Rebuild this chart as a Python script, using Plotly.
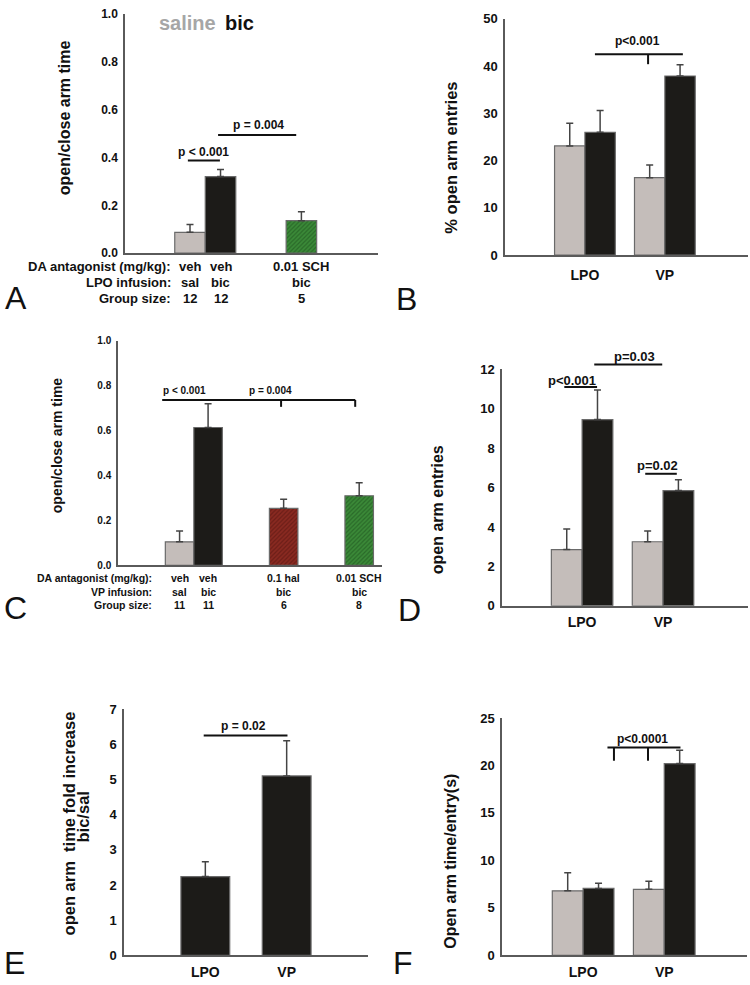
import plotly.graph_objects as go

W, H = 750, 985
FONT = "Liberation Sans, Arial, Helvetica, sans-serif"
GRAY = "#c4bdba"
BLACK = "#1c1b18"
RED = "#8a2a21"
GREEN = "#3b8a38"
RED_FG = "#4e120e"
GREEN_FG = "#1a4a19"
AXC = "#5a5a5a"

# ---------------- data ----------------
# Panel A (LPO infusion, open/close arm time)
A_da = ["veh", "veh", "0.01 SCH"]
A_inf = ["sal", "bic", "bic"]
A_n = ["12", "12", "5"]
A_val = [0.087, 0.320, 0.136]
A_err = [0.033, 0.030, 0.037]

# Panel B (% open arm entries)
REGIONS = ["LPO", "VP"]
B_sal = [23.1, 16.4]
B_sal_err = [4.8, 2.7]
B_bic = [26.0, 37.9]
B_bic_err = [4.6, 2.4]

# Panel C (VP infusion, open/close arm time)
C_da = ["veh", "veh", "0.1 hal", "0.01 SCH"]
C_inf = ["sal", "bic", "bic", "bic"]
C_n = ["11", "11", "6", "8"]
C_val = [0.105, 0.614, 0.254, 0.310]
C_err = [0.048, 0.106, 0.040, 0.058]

# Panel D (open arm entries)
D_sal = [2.85, 3.25]
D_sal_err = [1.05, 0.55]
D_bic = [9.45, 5.85]
D_bic_err = [1.50, 0.55]

# Panel E (fold increase bic/sal)
E_val = [2.24, 5.10]
E_err = [0.42, 1.00]

# Panel F (open arm time/entry)
F_sal = [6.8, 6.95]
F_sal_err = [1.9, 0.85]
F_bic = [7.05, 20.2]
F_bic_err = [0.55, 1.4]

# ---------------- layout geometry / styles ----------------
GEOM = {
    "A": dict(xpx=(125, 378), ypx=(7, 250), xr=[-2.13, 6.16], yr=[0, 1.0]),
    "B": dict(xpx=(505, 748), ypx=(12, 252), xr=[-1.0, 2.04], yr=[0, 50]),
    "C": dict(xpx=(118, 382), ypx=(339, 567), xr=[-2.16, 7.1], yr=[0, 1.0]),
    "D": dict(xpx=(502, 748), ypx=(368, 608), xr=[-0.99, 2.05], yr=[0, 12]),
    "E": dict(xpx=(124, 368), ypx=(713, 963), xr=[-1.0, 2.0], yr=[0, 7]),
    "F": dict(xpx=(502, 747), ypx=(722, 963), xr=[-1.0, 2.02], yr=[0, 25]),
}
A_pos = [0, 1, 3.65]
C_pos = [0, 1, 3.65, 6.3]
A_style = [(GRAY, None), (BLACK, None), (GREEN, GREEN_FG)]
C_style = [(GRAY, None), (BLACK, None), (RED, RED_FG), (GREEN, GREEN_FG)]


def px(x, y):
    return x / W, 1 - y / H


def to_paper(p, xv, yv):
    g = GEOM[p]
    fx = (xv - g["xr"][0]) / (g["xr"][1] - g["xr"][0])
    fy = (yv - g["yr"][0]) / (g["yr"][1] - g["yr"][0])
    X = g["xpx"][0] + fx * (g["xpx"][1] - g["xpx"][0])
    Y = g["ypx"][1] - fy * (g["ypx"][1] - g["ypx"][0])
    return X / W, 1 - Y / H


def err(arr):
    return dict(type="data", symmetric=False, array=arr, arrayminus=[0] * len(arr),
                color="#444444", thickness=1.5, width=3.5)


LINE = dict(color="#6a6a6a", width=1.2)
fig = go.Figure()


def per_bar(pos, vals, errs, styles, xa, ya):
    for i in range(len(vals)):
        col, fg = styles[i]
        marker = dict(color=col, line=LINE)
        if fg:
            marker["pattern"] = dict(shape="/", fillmode="overlay", fgcolor=fg,
                                     size=3, solidity=0.4)
        fig.add_trace(go.Bar(x=[pos[i]], y=[vals[i]], width=1, xaxis=xa, yaxis=ya,
                             marker=marker, error_y=err([errs[i]]), showlegend=False))


# A
per_bar(A_pos, A_val, A_err, A_style, "x", "y")
# B
fig.add_trace(go.Bar(x=REGIONS, y=B_sal, xaxis="x2", yaxis="y2", name="saline",
                     marker=dict(color=GRAY, line=LINE), error_y=err(B_sal_err), showlegend=False))
fig.add_trace(go.Bar(x=REGIONS, y=B_bic, xaxis="x2", yaxis="y2", name="bic",
                     marker=dict(color=BLACK, line=LINE), error_y=err(B_bic_err), showlegend=False))
# C
per_bar(C_pos, C_val, C_err, C_style, "x3", "y3")
# D
fig.add_trace(go.Bar(x=REGIONS, y=D_sal, xaxis="x4", yaxis="y4",
                     marker=dict(color=GRAY, line=LINE), error_y=err(D_sal_err), showlegend=False))
fig.add_trace(go.Bar(x=REGIONS, y=D_bic, xaxis="x4", yaxis="y4",
                     marker=dict(color=BLACK, line=LINE), error_y=err(D_bic_err), showlegend=False))
# E
fig.add_trace(go.Bar(x=REGIONS, y=E_val, width=0.6, xaxis="x5", yaxis="y5",
                     marker=dict(color=BLACK, line=LINE), error_y=err(E_err), showlegend=False))
# F
fig.add_trace(go.Bar(x=REGIONS, y=F_sal, xaxis="x6", yaxis="y6",
                     marker=dict(color=GRAY, line=LINE), error_y=err(F_sal_err), showlegend=False))
fig.add_trace(go.Bar(x=REGIONS, y=F_bic, xaxis="x6", yaxis="y6",
                     marker=dict(color=BLACK, line=LINE), error_y=err(F_bic_err), showlegend=False))

layout = dict(width=W, height=H, margin=dict(l=0, r=0, t=0, b=0),
              paper_bgcolor="white", plot_bgcolor="white",
              barmode="group", bargap=0.24, bargroupgap=0,
              font=dict(family=FONT, color="#111"))

panel_axes = [("A", "", 12, 0.2, ".1f", False),
              ("B", "2", 13, 10, "d", True),
              ("C", "3", 10, 0.2, ".1f", False),
              ("D", "4", 13, 2, "d", True),
              ("E", "5", 13, 1, "d", True),
              ("F", "6", 13, 5, "d", True)]
xstand = {"B": 6, "D": 3, "E": 3, "F": 3}
for p, s, fs, dt, fmt, cat in panel_axes:
    g = GEOM[p]
    xd = [g["xpx"][0] / W, g["xpx"][1] / W]
    yd = [1 - g["ypx"][1] / H, 1 - g["ypx"][0] / H]
    xa = dict(domain=xd, anchor="y" + s, range=g["xr"], showline=True, linecolor=AXC,
              linewidth=1.5, showgrid=False, zeroline=False, ticks="", fixedrange=True)
    if cat:
        xa.update(type="category", categoryorder="array", categoryarray=REGIONS,
                  tickfont=dict(size=14, weight="bold", color="#111"),
                  ticklabelstandoff=xstand[p])
    else:
        xa.update(showticklabels=False)
    ya = dict(domain=yd, anchor="x" + s, range=g["yr"], showline=True, linecolor=AXC,
              linewidth=1.5, showgrid=False, zeroline=False, ticks="", dtick=dt,
              tick0=0, tickformat=fmt, tickfont=dict(size=fs, weight="bold", color="#111"),
              ticklabelstandoff=3, fixedrange=True)
    layout["xaxis" + s] = xa
    layout["yaxis" + s] = ya

fig.update_layout(**layout)

ann = []
shapes = []


def text(x, y, t, size, bold=True, color="#111", angle=0, xanchor="center", yanchor="middle"):
    ann.append(dict(x=x, y=y, xref="paper", yref="paper", text=t, showarrow=False,
                    textangle=angle, xanchor=xanchor, yanchor=yanchor,
                    font=dict(size=size, family=FONT, color=color,
                              weight="bold" if bold else "normal")))


def seg(p, x0, y0, x1, y1, w=2):
    a = to_paper(p, x0, y0)
    b = to_paper(p, x1, y1)
    shapes.append(dict(type="line", xref="paper", yref="paper", x0=a[0], y0=a[1],
                       x1=b[0], y1=b[1], line=dict(color="#111", width=w)))


def ptext(p, xv, yv, t, size):
    x, y = to_paper(p, xv, yv)
    text(x, y, t, size)


# panel letters
for L, (lx, ly) in {"A": (16, 295), "B": (406, 297), "C": (15, 610),
                     "D": (409, 612), "E": (14, 971), "F": (403, 971)}.items():
    x, y = px(lx, ly)
    text(x, y, L, 32, bold=False, color="#111")

# y-axis titles
for (tx, ty, t, fs) in [(64, 113, "open/close arm time", 16),
                        (451, 153, "% open arm entries", 16.5),
                        (57, 445, "open/close arm time", 14),
                        (437, 511, "open arm entries", 16),
                        (69, 829, "open arm  time fold increase", 16.5),
                        (83, 823, "bic/sal", 16.5),
                        (451, 868, "Open arm time/entry(s)", 16)]:
    x, y = px(tx, ty)
    text(x, y, t, fs, angle=-90)

# legend text in A
x, y = px(187, 16)
text(x, y, "saline", 20, color="#a6a6a6")
x, y = px(239, 16)
text(x, y, "bic", 20, color="#111")

# row labels A
rowsA = [("DA antagonist (mg/kg):", A_da, 264), ("LPO infusion:", A_inf, 280),
         ("Group size:", A_n, 296)]
for head, vals, ry in rowsA:
    x, y = px(173, ry)
    text(x, y, head, 13, xanchor="right")
    for pos, v in zip(A_pos, vals):
        xx, _ = to_paper("A", pos, 0)
        text(xx, y, v, 13)

rowsC = [("DA antagonist (mg/kg):", C_da, 580), ("VP infusion:", C_inf, 594),
         ("Group size:", C_n, 607)]
for head, vals, ry in rowsC:
    x, y = px(154, ry)
    text(x, y, head, 10.5, xanchor="right")
    for pos, v in zip(C_pos, vals):
        xx, _ = to_paper("C", pos, 0)
        text(xx, y, v, 10.5)

# significance A
seg("A", -0.07, 0.387, 0.98, 0.387)
ptext("A", 0.43, 0.424, "p < 0.001", 12)
seg("A", 0.92, 0.494, 3.48, 0.494)
ptext("A", 2.23, 0.535, "p = 0.004", 12)

# significance B
seg("B", 0.125, 42.5, 1.225, 42.5)
seg("B", 0.79, 42.5, 0.79, 40.4)
ptext("B", 0.66, 45.4, "p<0.001", 12)

# significance C
seg("C", -0.61, 0.737, 6.16, 0.737)
seg("C", 3.56, 0.737, 3.56, 0.706)
seg("C", 6.16, 0.737, 6.16, 0.706)
ptext("C", 0.16, 0.78, "p < 0.001", 10)
ptext("C", 3.18, 0.78, "p = 0.004", 10)

# significance D
seg("D", -0.22, 11.1, 0.185, 11.1)
ptext("D", -0.12, 11.45, "p<0.001", 13)
seg("D", 0.15, 12.25, 0.99, 12.25)
ptext("D", 0.65, 12.65, "p=0.03", 13)
seg("D", 0.78, 6.7, 1.17, 6.7)
ptext("D", 0.93, 7.1, "p=0.02", 13)

# significance E
seg("E", -0.02, 6.25, 1.01, 6.25)
ptext("E", 0.47, 6.53, "p = 0.02", 12)

# significance F
seg("F", 0.30, 21.9, 1.20, 21.9)
seg("F", 0.38, 21.9, 0.38, 20.5)
seg("F", 0.80, 21.9, 0.80, 20.5)
ptext("F", 0.73, 22.8, "p<0.0001", 12)

fig.update_layout(annotations=ann, shapes=shapes)
fig.write_html("out.html", config={"displayModeBar": False},
               post_script="document.body.style.margin='0';document.body.style.overflow='hidden';")
